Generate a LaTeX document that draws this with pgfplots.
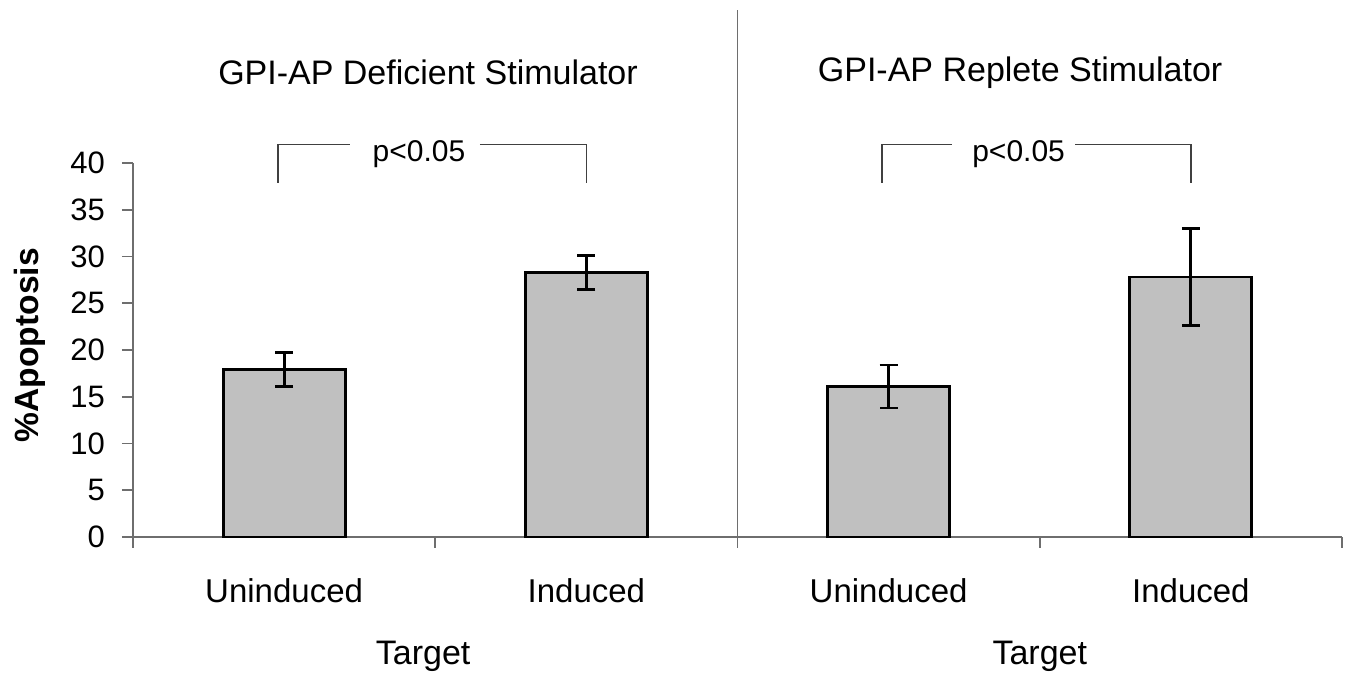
\documentclass[border=0pt]{standalone}
\usepackage{fontspec}
\setmainfont{Liberation Sans}
\usepackage{pgfplots}
\usepackage{pgfplotstable}
\pgfplotsset{compat=1.18}
\pgfplotstableread{
x y err
0 17.9 1.8
1 28.3 1.8
2 16.1 2.3
3 27.8 5.2
}\apoptosis
\definecolor{barfill}{RGB}{192,192,192}
\definecolor{axgray}{RGB}{110,110,110}
\begin{document}
\begin{tikzpicture}
\useasboundingbox (-66.5pt,-68pt) rectangle (608pt,268.5pt);
\begin{axis}[
  at={(0,0)}, anchor=south west,
  width=604.5pt, height=187pt, scale only axis,
  xmin=-0.5, xmax=3.5, ymin=0, ymax=40,
  axis x line*=bottom, axis y line*=left,
  axis line style={draw=axgray, line width=0.8pt},
  clip=false,
  ybar, bar width=61pt,
  tick align=outside,
  major tick length=5.5pt,
  tick style={draw=axgray, line width=0.8pt},
  xtick={-0.5,0.5,1.5,2.5,3.5},
  xticklabels={{},{},{},{},{}},
  extra x ticks={0,1,2,3},
  extra x tick labels={Uninduced,Induced,Uninduced,Induced},
  extra x tick style={major tick length=0pt,
     tick label style={yshift=-17.5pt, font=\fontsize{16.5}{19}\selectfont}},
  ytick={0,5,...,40},
  yticklabel style={xshift=-5pt, font=\fontsize{15.5}{18}\selectfont},
  /pgf/number format/assume math mode=true,
  ylabel={\bfseries\%Apoptosis},
  ylabel style={at={(axis description cs:-0.0852,0.513)}, anchor=center,
     font=\fontsize{16.8}{19}\selectfont},
]
\addplot[fill=barfill, draw=black, line width=1.4pt,
  error bars/.cd, y dir=both, y explicit,
  error bar style={line width=1.4pt, black},
  error mark options={rotate=90, mark size=4.5pt, line width=1.4pt, black}]
  table[x=x, y=y, y error=err]{\apoptosis};
% divider
\draw[axgray, line width=0.9pt] (axis cs:1.5,0) -- (axis cs:1.5,56.4);
% titles
\node[font=\fontsize{17}{20}\selectfont] at (axis cs:0.476,49.7) {GPI-AP Deficient Stimulator};
\node[font=\fontsize{17}{20}\selectfont] at (axis cs:2.435,49.7) {GPI-AP Replete Stimulator};
% brackets
\draw[black!75, line width=0.75pt] (axis cs:-0.02,37.9) |- (axis cs:0.218,42.0);
\draw[black!75, line width=0.75pt] (axis cs:0.648,42.0) -| (axis cs:1.0,37.9);
\draw[black!75, line width=0.75pt] (axis cs:1.978,37.9) |- (axis cs:2.21,42.0);
\draw[black!75, line width=0.75pt] (axis cs:2.617,42.0) -| (axis cs:3.0,37.9);
\node[font=\fontsize{15}{18}\selectfont] at (axis cs:0.446,41.0) {p<0.05};
\node[font=\fontsize{15}{18}\selectfont] at (axis cs:2.43,41.0) {p<0.05};
% axis titles
\node[font=\fontsize{17}{20}\selectfont] at (axis cs:0.46,0) [yshift=-59.5pt] {Target};
\node[font=\fontsize{17}{20}\selectfont] at (axis cs:2.5,0) [yshift=-59.5pt] {Target};
\end{axis}
\end{tikzpicture}
\end{document}
